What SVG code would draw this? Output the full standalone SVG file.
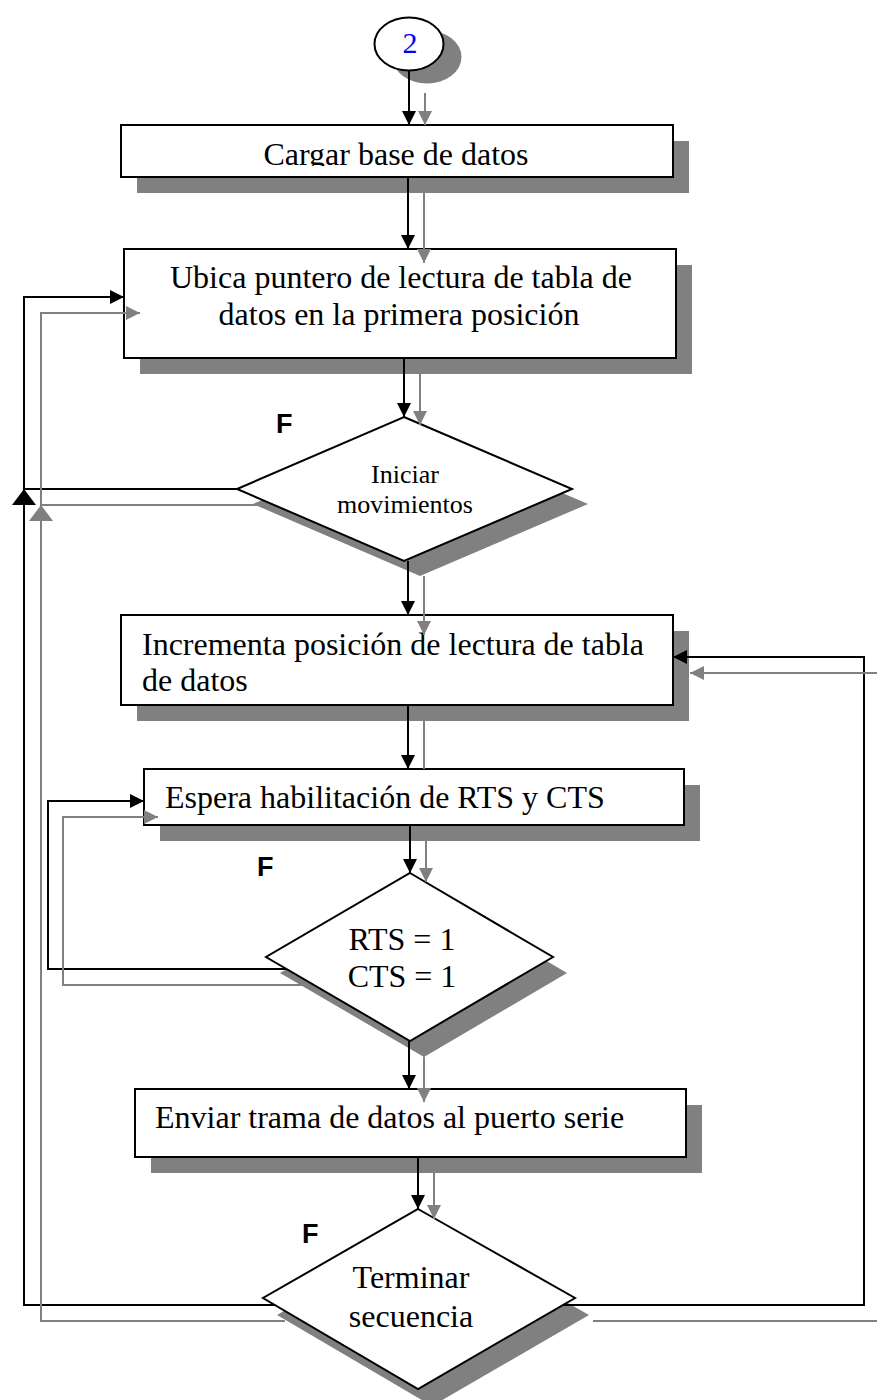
<svg xmlns="http://www.w3.org/2000/svg" width="877" height="1400" viewBox="0 0 877 1400">
<style>
.bg{fill:#ffffff}
.shadow{fill:#808080;stroke:none}
.box{fill:#ffffff;stroke:#000000;stroke-width:2}
.t{font-family:"Liberation Serif","Times New Roman",serif;font-size:32px;fill:#000000}
.ts{font-family:"Liberation Serif","Times New Roman",serif;font-size:26px;fill:#000000}
.f{font-family:"Liberation Sans",Arial,sans-serif;font-size:27px;font-weight:bold;fill:#000000}
.cb{fill:none;stroke:#000000;stroke-width:2}
.cg{fill:none;stroke:#808080;stroke-width:2}
</style>
<defs>
<marker id="ab" markerUnits="userSpaceOnUse" markerWidth="14" markerHeight="14" refX="14" refY="7" orient="auto">
<path d="M0,0 L14,7 L0,14 z" fill="#000000"/>
</marker>
<marker id="ag" markerUnits="userSpaceOnUse" markerWidth="14" markerHeight="14" refX="14" refY="7" orient="auto">
<path d="M0,0 L14,7 L0,14 z" fill="#808080"/>
</marker>
<marker id="abL" markerUnits="userSpaceOnUse" markerWidth="16" markerHeight="24" refX="16" refY="12" orient="auto">
<path d="M0,0 L16,12 L0,24 z" fill="#000000"/>
</marker>
<marker id="agL" markerUnits="userSpaceOnUse" markerWidth="16" markerHeight="24" refX="16" refY="12" orient="auto">
<path d="M0,0 L16,12 L0,24 z" fill="#808080"/>
</marker>
<clipPath id="clip1"><rect x="121" y="125" width="552" height="41"/></clipPath>
</defs>
<rect class="bg" x="0" y="0" width="877" height="1400"/>

<g id="start">
<ellipse class="shadow" cx="427" cy="57" rx="34.5" ry="26.5"/>
<ellipse class="box" cx="409" cy="44" rx="34.5" ry="26.5"/>
<text x="410" y="53" text-anchor="middle" style="font-family:'Liberation Serif','Times New Roman',serif;font-size:30px;fill:#0000ff">2</text>
</g>

<g id="cargar">
<rect class="shadow" x="137" y="141" width="552" height="52"/>
<rect class="box" x="121" y="125" width="552" height="52"/>
<text class="t" x="396" y="165" text-anchor="middle" clip-path="url(#clip1)">Cargar base de datos</text>
</g>

<g id="ubica">
<rect class="shadow" x="140" y="265" width="552" height="109"/>
<rect class="box" x="124" y="249" width="552" height="109"/>
<text class="t" x="401" y="288" text-anchor="middle">Ubica puntero de lectura de tabla de</text>
<text class="t" x="399" y="325" text-anchor="middle">datos en la primera posición</text>
</g>

<g id="iniciar">
<polygon class="shadow" points="420,432 588,504 420,576 253,504"/>
<polygon class="box" points="404,417 572,489 404,561 237,489"/>
<text class="ts" x="405" y="483" text-anchor="middle">Iniciar</text>
<text class="ts" x="405" y="513" text-anchor="middle">movimientos</text>
<text class="f" x="276" y="433">F</text>
</g>

<g id="incrementa">
<rect class="shadow" x="137" y="631" width="552" height="90"/>
<rect class="box" x="121" y="615" width="552" height="90"/>
<text class="t" x="142" y="655">Incrementa posición de lectura de tabla</text>
<text class="t" x="142" y="691">de datos</text>
</g>

<g id="espera">
<rect class="shadow" x="160" y="785" width="540" height="56"/>
<rect class="box" x="144" y="769" width="540" height="56"/>
<text class="t" x="165" y="808">Espera habilitación de RTS y CTS</text>
</g>

<g id="rtscts">
<polygon class="shadow" points="424,889 567,973 424,1057 280,973"/>
<polygon class="box" points="410,873 553,957 410,1041 266,957"/>
<text class="t" x="402" y="950" text-anchor="middle">RTS = 1</text>
<text class="t" x="402" y="987" text-anchor="middle">CTS = 1</text>
<text class="f" x="257" y="876">F</text>
</g>

<g id="enviar">
<rect class="shadow" x="151" y="1105" width="551" height="68"/>
<rect class="box" x="135" y="1089" width="551" height="68"/>
<text class="t" x="155" y="1128">Enviar trama de datos al puerto serie</text>
</g>

<g id="terminar">
<polygon class="shadow" points="432,1226 589,1315 432,1406 277,1315"/>
<polygon class="box" points="418,1209 575,1298 418,1389 263,1298"/>
<text class="t" x="411" y="1288" text-anchor="middle">Terminar</text>
<text class="t" x="411" y="1327" text-anchor="middle">secuencia</text>
<text class="f" x="302" y="1243">F</text>
</g>

<g id="connectors">
<!-- black main flow -->
<path class="cb" d="M409,71 V125" marker-end="url(#ab)"/>
<path class="cb" d="M408,177 V249" marker-end="url(#ab)"/>
<path class="cb" d="M404,358 V417" marker-end="url(#ab)"/>
<path class="cb" d="M408,561 V615" marker-end="url(#ab)"/>
<path class="cb" d="M408,705 V769" marker-end="url(#ab)"/>
<path class="cb" d="M410,825 V873" marker-end="url(#ab)"/>
<path class="cb" d="M409,1041 V1089" marker-end="url(#ab)"/>
<path class="cb" d="M418,1157 V1209" marker-end="url(#ab)"/>
<!-- black loops -->
<path class="cb" d="M237,489 H24 V297 H124" marker-end="url(#ab)"/>
<path class="cb" d="M286,969 H48 V801 H144" marker-end="url(#ab)"/>
<path class="cb" d="M275,1305 H24 V489" marker-end="url(#abL)"/>
<path class="cb" d="M563,1305 H864 V657 H673" marker-end="url(#ab)"/>
<!-- gray main flow -->
<path class="cg" d="M425,93 V125" marker-end="url(#ag)"/>
<path class="cg" d="M424,193 V263" marker-end="url(#ag)"/>
<path class="cg" d="M420,374 V425" marker-end="url(#ag)"/>
<path class="cg" d="M424,576 V635" marker-end="url(#ag)"/>
<path class="cg" d="M424,721 V769"/>
<path class="cg" d="M426,841 V882" marker-end="url(#ag)"/>
<path class="cg" d="M424,1057 V1102" marker-end="url(#ag)"/>
<path class="cg" d="M434,1173 V1219" marker-end="url(#ag)"/>
<!-- gray loops -->
<path class="cg" d="M257,505 H41 V313 H140" marker-end="url(#ag)"/>
<path class="cg" d="M302,985 H63 V817 H158" marker-end="url(#ag)"/>
<path class="cg" d="M285,1321 H41 V505" marker-end="url(#agL)"/>
<path class="cg" d="M593,1321 H880 V673 H690" marker-end="url(#ag)"/>
</g>
</svg>
